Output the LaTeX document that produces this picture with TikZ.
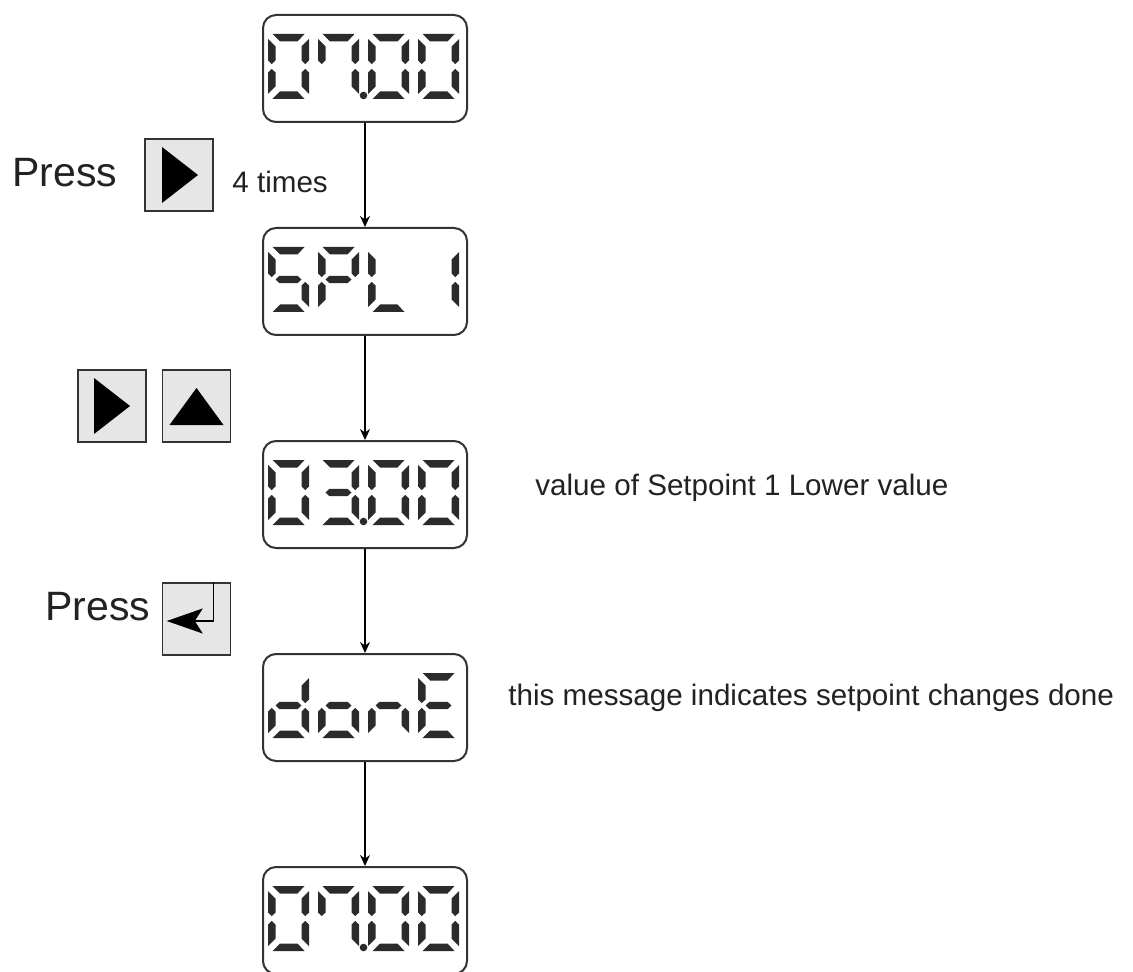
\documentclass[tikz,border=0pt]{standalone}
\usepackage{fontspec}
\setmainfont{Liberation Sans}
\usetikzlibrary{arrows.meta,calc}

\definecolor{segcol}{HTML}{2B2B2B}
\definecolor{framecol}{HTML}{333333}
\definecolor{keyfill}{HTML}{E6E6E6}
\definecolor{txtcol}{HTML}{222222}

% seven-segment elements, local frame: origin top-left, 41 x 65 units, y downwards
\tikzset{
  seg a/.pic={\fill[segcol] (4.5,0)--(36.5,0)--(29.5,7.5)--(12,7.5)--cycle;},
  seg d/.pic={\fill[segcol] (4.5,65)--(36.5,65)--(29.5,57.5)--(12,57.5)--cycle;},
  seg g/.pic={\fill[segcol] (7.5,32.5)--(11.5,28.8)--(29.5,28.8)--(33.5,32.5)--(29.5,36.2)--(11.5,36.2)--cycle;},
  seg f/.pic={\fill[segcol] (0,5)--(7.5,12.5)--(7.5,26.5)--(3.75,30.2)--(0,26.5)--cycle;},
  seg e/.pic={\fill[segcol] (0,60)--(7.5,52.5)--(7.5,38.5)--(3.75,34.8)--(0,38.5)--cycle;},
  seg b/.pic={\fill[segcol] (41,5)--(33.5,12.5)--(33.5,26.5)--(37.25,30.2)--(41,26.5)--cycle;},
  seg c/.pic={\fill[segcol] (41,60)--(33.5,52.5)--(33.5,38.5)--(37.25,34.8)--(41,38.5)--cycle;},
  display/.style={draw=framecol, line width=1pt, fill=white, rounded corners=6.5pt,
    minimum width=102pt, minimum height=53.5pt, inner sep=0pt},
  key/.style={draw=framecol, line width=0.75pt, fill=keyfill,
    minimum width=34pt, minimum height=36pt, inner sep=0pt},
  flow/.style={draw=black, line width=0.7pt, -{Stealth[length=5.5pt,width=5pt]}},
  label/.style={anchor=base west, inner sep=0pt, text=txtcol, font=\fontsize{14.8pt}{17pt}\selectfont},
  press/.style={anchor=base west, inner sep=0pt, text=txtcol, font=\fontsize{20.5pt}{24pt}\selectfont},
}

% one digit: #1 display node, #2 digit position (0..3), #3 list of lit segments
\newcommand\lcddigit[3]{%
  \begin{scope}[shift={($(#1.north west)+(6+50*#2,20)$)}]
    \foreach \s in {#3} {\pic {seg \s};}
  \end{scope}}
% decimal point after the second digit
\newcommand\lcdpoint[1]{%
  \fill[segcol] ($(#1.north west)+(101.5,81.5)$) circle[radius=1.9pt];}

\begin{document}
\begin{tikzpicture}[x=0.5pt,y=-0.5pt]
\useasboundingbox (0,0) rectangle (1133,972);
\fill[white] (0,0) rectangle (1133,972);

% displays
\node[display] (d1) at (365,68.5) {};
\node[display] (d2) at (365,281.5) {};
\node[display] (d3) at (365,494.5) {};
\node[display] (d4) at (365,707.5) {};
\node[display] (d5) at (365,920.5) {};

% 07.00
\lcddigit{d1}{0}{a,b,c,d,e,f}
\lcddigit{d1}{1}{a,b,c,f}
\lcdpoint{d1}
\lcddigit{d1}{2}{a,b,c,d,e,f}
\lcddigit{d1}{3}{a,b,c,d,e,f}

% SPL 1
\lcddigit{d2}{0}{a,f,g,c,d}
\lcddigit{d2}{1}{a,b,f,g,e}
\lcddigit{d2}{2}{f,e,d}
\lcddigit{d2}{3}{b,c}

% 03.00
\lcddigit{d3}{0}{a,b,c,d,e,f}
\lcddigit{d3}{1}{a,b,g,c,d}
\lcdpoint{d3}
\lcddigit{d3}{2}{a,b,c,d,e,f}
\lcddigit{d3}{3}{a,b,c,d,e,f}

% donE
\lcddigit{d4}{0}{b,c,d,e,g}
\lcddigit{d4}{1}{c,d,e,g}
\lcddigit{d4}{2}{c,e,g}
\lcddigit{d4}{3}{a,f,g,e,d}

% 07.00
\lcddigit{d5}{0}{a,b,c,d,e,f}
\lcddigit{d5}{1}{a,b,c,f}
\lcdpoint{d5}
\lcddigit{d5}{2}{a,b,c,d,e,f}
\lcddigit{d5}{3}{a,b,c,d,e,f}

% sequence arrows
\draw[flow] (d1.south) -- (d2.north);
\draw[flow] (d2.south) -- (d3.north);
\draw[flow] (d3.south) -- (d4.north);
\draw[flow] (d4.south) -- (d5.north);

% keys
\node[key] (k1) at (179,175) {};
\fill[black] ($(k1)+(-17,-28)$) -- ($(k1)+(-17,28)$) -- ($(k1)+(19,0)$) -- cycle;

\node[key] (k2) at (112,406) {};
\fill[black] ($(k2)+(-18,-28)$) -- ($(k2)+(-18,28)$) -- ($(k2)+(18,0)$) -- cycle;

\node[key] (k3) at (196.5,406) {};
\fill[black] ($(k3)+(-27,19)$) -- ($(k3)+(27,19)$) -- ($(k3)+(0,-18)$) -- cycle;

\node[key] (k4) at (196.5,619) {};
\coordinate (entTop) at ($(k4.north east)+(-18,0)$);
\coordinate (entTip) at ($(k4.west)+(5,2)$);
\draw[black, line width=0.6pt, -{Stealth[length=18pt,width=12.5pt,inset=4pt]}]
  (entTop) |- (entTip);

% texts
\node[press] (p1) at (12,187) {Press};
\node[label] (t1) at (232,193) {4 times};
\node[press] (p2) at (45,620) {Press};
\node[label] (t2) at (535,495) {value of Setpoint 1 Lower value};
\node[label] (t3) at (508,705) {this message indicates setpoint changes done};
\end{tikzpicture}
\end{document}
